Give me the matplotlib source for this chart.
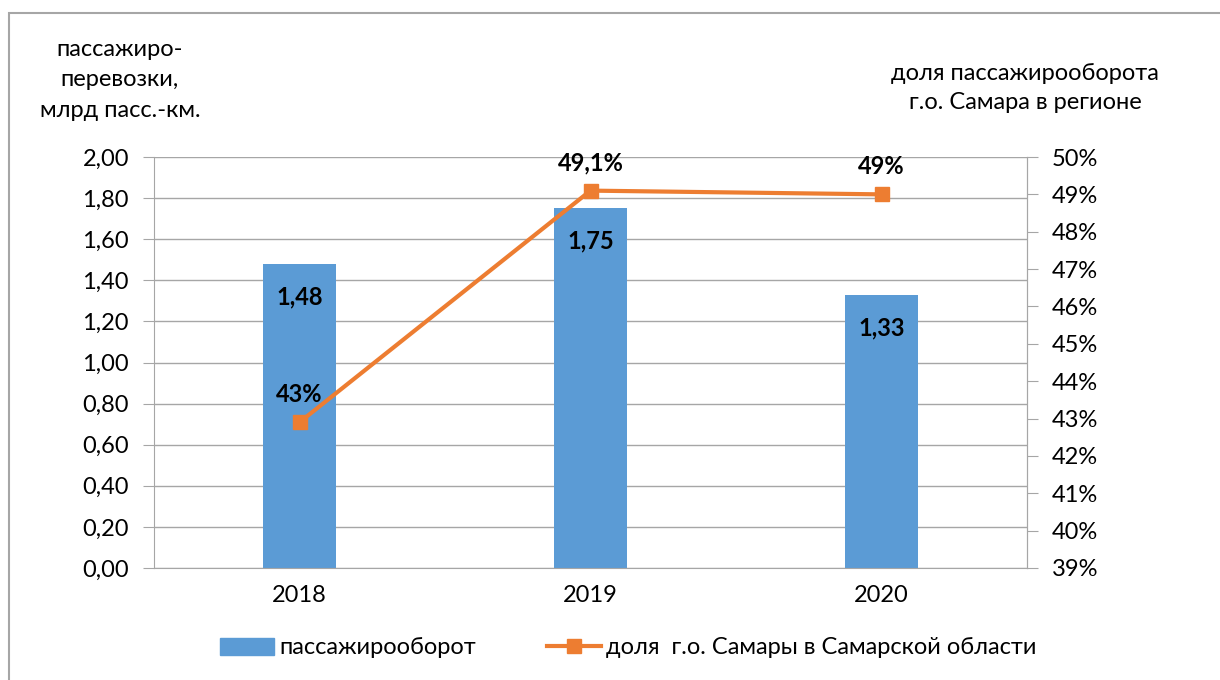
import numpy as np
import matplotlib.pyplot as plt
from matplotlib.patches import Rectangle
from matplotlib.lines import Line2D
from matplotlib.ticker import FixedLocator

plt.rcParams['font.family'] = ['Lato', 'DejaVu Sans']

years = ['2018', '2019', '2020']
oborot = [1.48, 1.75, 1.33]
oborot_labels = ['1,48', '1,75', '1,33']
dolya = [42.9, 49.1, 49.0]
dolya_labels = ['43%', '49,1%', '49%']

left_ticks = np.arange(0, 2.01, 0.2)
right_ticks = np.arange(39, 51, 1)

blue = '#5B9BD5'
orange = '#ED7D31'
grey = '#A6A6A6'
fs = 17

fig = plt.figure(figsize=(12.2, 6.8), dpi=100)
ax = fig.add_axes([154 / 1220, 1 - 568 / 680, 873 / 1220, 411 / 680])

# рамка вокруг диаграммы
fig.patches.append(Rectangle((9 / 1220, -0.1), 1.2, 1 - 13 / 680 + 0.1, transform=fig.transFigure,
                             fill=False, edgecolor=grey, lw=1.5))

x = np.arange(len(years))
ax.bar(x, oborot, width=0.25, color=blue, zorder=2)
ax.set_xlim(-0.5, 2.5)
ax.set_ylim(0, 2.0)
ax.yaxis.set_major_locator(FixedLocator(left_ticks))
ax.set_yticklabels([f'{v:.2f}'.replace('.', ',') for v in left_ticks], fontsize=fs)
ax.set_xticks(x)
ax.set_xticklabels(years, fontsize=fs)
ax.tick_params(axis='x', length=0, pad=12)
ax.tick_params(axis='y', length=8, color=grey, pad=10)
ax.grid(axis='y', color=grey, lw=1, zorder=0)
ax.set_axisbelow(True)
ax.spines['top'].set_visible(False)
for s in ['left', 'right', 'bottom']:
    ax.spines[s].set_color(grey)

# подписи столбцов внутри
for xi, v, lab in zip(x, oborot, oborot_labels):
    ax.text(xi, v - 0.16, lab, ha='center', va='center', fontsize=fs, fontweight='bold', zorder=5)

ax2 = ax.twinx()
ax2.set_ylim(39, 50)
ax2.yaxis.set_major_locator(FixedLocator(right_ticks))
ax2.set_yticklabels([f'{v}%' for v in right_ticks], fontsize=fs)
ax2.tick_params(axis='y', length=8, color=grey, pad=10)
for s in ['top', 'left', 'bottom']:
    ax2.spines[s].set_visible(False)
ax2.spines['right'].set_color(grey)
ax2.plot(x, dolya, color=orange, lw=3, marker='s', markersize=10, zorder=4)
for xi, v, lab in zip(x, dolya, dolya_labels):
    ax2.text(xi, v + 0.75, lab, ha='center', va='center', fontsize=fs, fontweight='bold', zorder=5)

fig.text(120 / 1220, 1 - 80 / 680, 'пассажиро-\nперевозки,\nмлрд пасс.-км.', ha='center', va='center',
         fontsize=fs, linespacing=1.55)
fig.text(1025 / 1220, 1 - 88 / 680, 'доля пассажирооборота\nг.о. Самара в регионе', ha='center', va='center',
         fontsize=fs, linespacing=1.45)

handles = [Rectangle((0, 0), 1, 1, color=blue),
           Line2D([], [], color=orange, lw=3, marker='s', markersize=10)]
fig.legend(handles, ['пассажирооборот', 'доля  г.о. Самары в Самарской области'],
           loc='center', bbox_to_anchor=(628 / 1220, 1 - 648 / 680), ncol=2, frameon=False,
           fontsize=fs, handlelength=2.3, handletextpad=0.2, columnspacing=3.0)

fig.savefig('out.png', dpi=100)
